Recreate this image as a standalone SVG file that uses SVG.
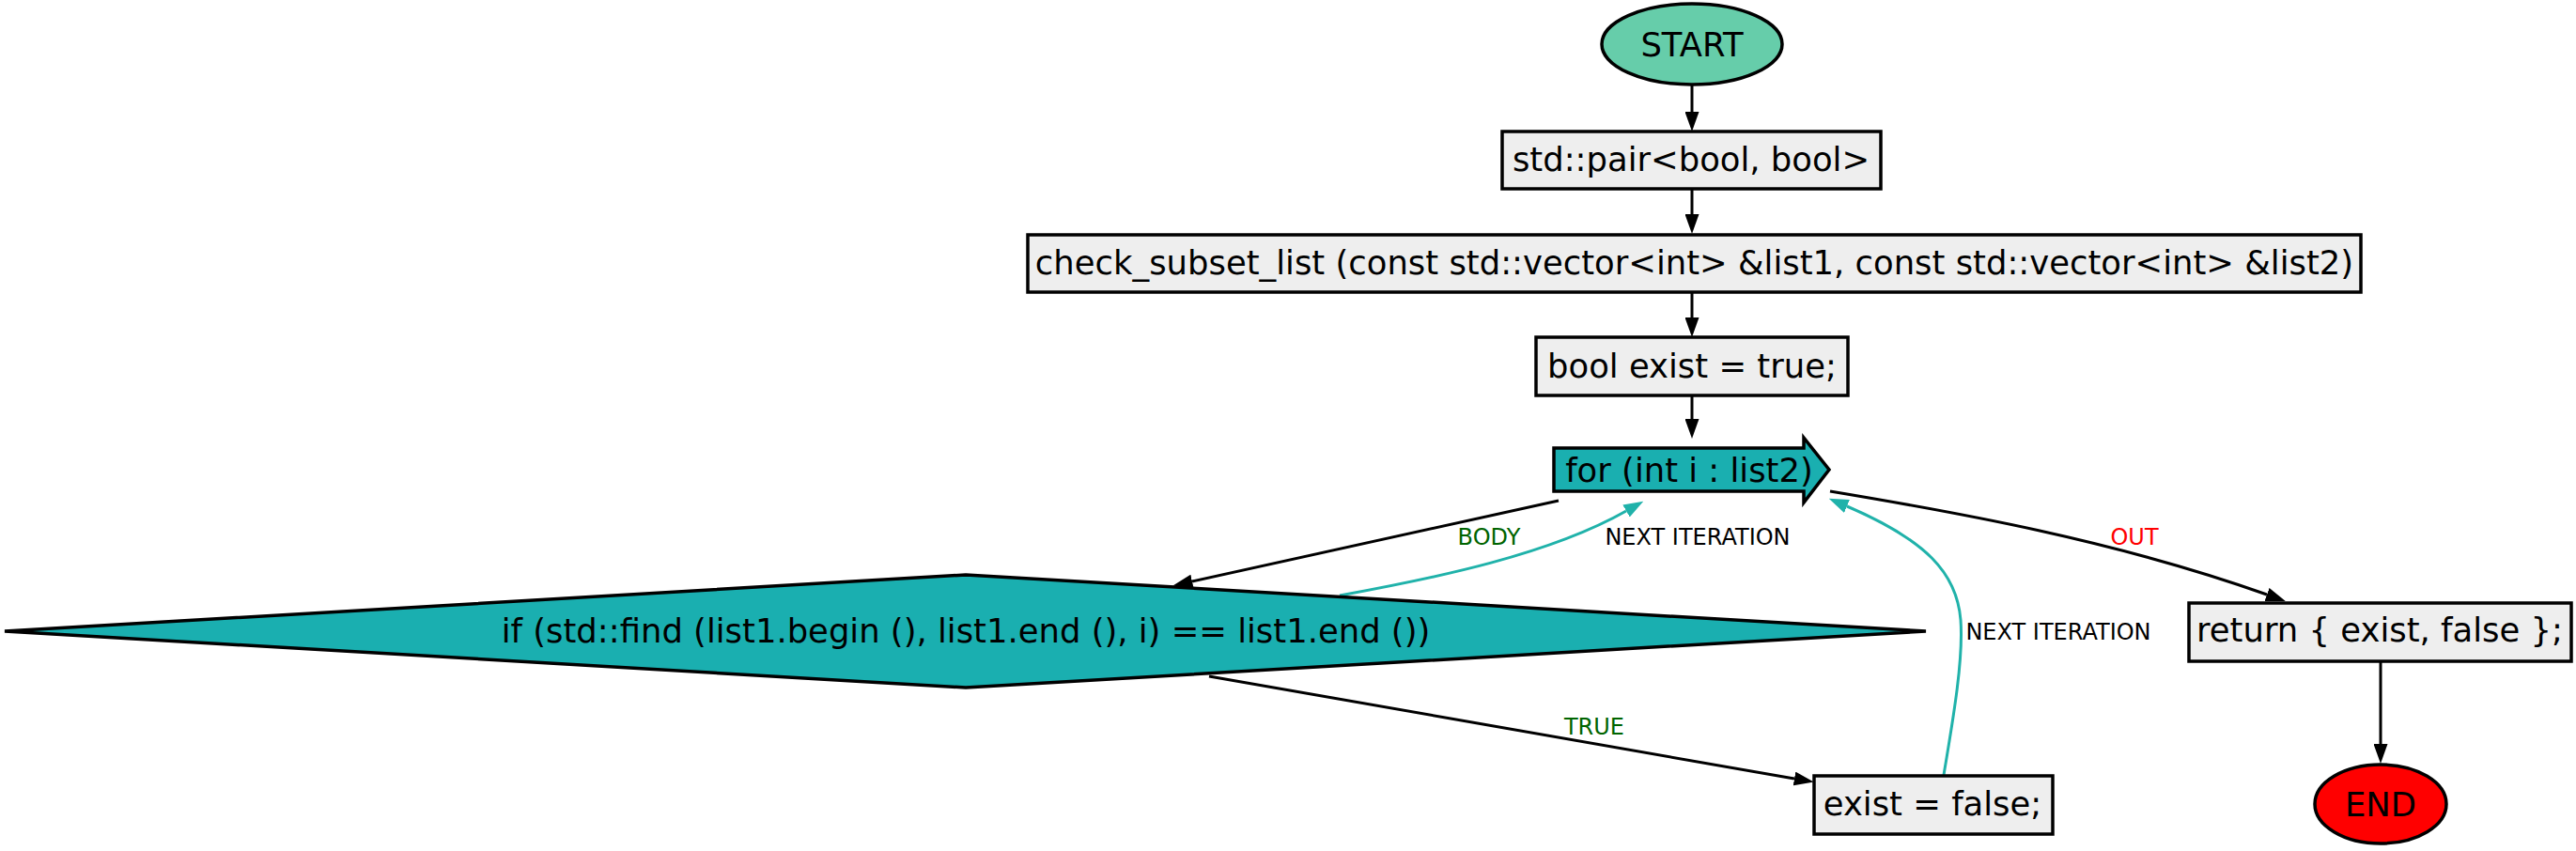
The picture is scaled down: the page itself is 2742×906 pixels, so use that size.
<svg xmlns="http://www.w3.org/2000/svg" width="2742" height="906" viewBox="0 0 2742 906">
<style>
.box{fill:#eeeeee;stroke:#000;stroke-width:3.5}
.loop{fill:#1aafb0;stroke:#000;stroke-width:3.5}
.t{font-family:"DejaVu Sans","Verdana",sans-serif;font-size:35.4px;fill:#000;text-anchor:middle}
.lb{font-family:"DejaVu Sans","Verdana",sans-serif;font-size:24px;text-anchor:middle}
.e{fill:none;stroke:#000;stroke-width:3}
.et{fill:none;stroke:#20b2aa;stroke-width:3}
</style>
<defs>
<marker id="ab" markerUnits="userSpaceOnUse" markerWidth="21" markerHeight="15" viewBox="0 0 21 15" refX="0" refY="7.5" orient="auto"><path d="M0,0 L21,7.5 L0,15 z" fill="#000"/></marker>
<marker id="at" markerUnits="userSpaceOnUse" markerWidth="21" markerHeight="15" viewBox="0 0 21 15" refX="0" refY="7.5" orient="auto"><path d="M0,0 L21,7.5 L0,15 z" fill="#20b2aa"/></marker>
</defs>
<rect width="2742" height="906" fill="#fff"/>
<g id="connectors">
<path class="e" d="M1801,90 L1801,119" marker-end="url(#ab)"/>
<path class="e" d="M1801,201 L1801,228" marker-end="url(#ab)"/>
<path class="e" d="M1801,311 L1801,338" marker-end="url(#ab)"/>
<path class="e" d="M1801,421 L1801,446" marker-end="url(#ab)"/>
<path class="e" d="M1659,533 L1269,619" marker-end="url(#ab)"/>
<path class="et" d="M1426,634 C1530,615 1650,590 1731,544" marker-end="url(#at)"/>
<path class="e" d="M1948,523 C2080,545 2250,575 2413,633" marker-end="url(#ab)"/>
<path class="e" d="M1287,720 L1910,829" marker-end="url(#ab)"/>
<path class="et" d="M2069,825 C2080,760 2090,700 2087,660 C2083,610 2050,575 1966,539" marker-end="url(#at)"/>
<path class="e" d="M2534,704 L2534,792" marker-end="url(#ab)"/>
<text class="lb" x="1585" y="580" fill="#006400">BODY</text>
<text class="lb" x="1807" y="580" fill="#000">NEXT ITERATION</text>
<text class="lb" x="2272" y="580" fill="#ff0000">OUT</text>
<text class="lb" x="1697" y="782" fill="#006400">TRUE</text>
<text class="lb" x="2191" y="681" fill="#000">NEXT ITERATION</text>
</g>
<g id="start">
<ellipse cx="1801" cy="47" rx="96" ry="43" fill="#66cdaa" stroke="#000" stroke-width="3.5"/>
<text class="t" x="1801" y="60">START</text>
</g>
<g id="pair">
<rect class="box" x="1599" y="140" width="403" height="61"/>
<text class="t" x="1800" y="182">std::pair&lt;bool, bool&gt;</text>
</g>
<g id="check">
<rect class="box" x="1094" y="250" width="1419" height="61"/>
<text class="t" x="1803.5" y="292">check_subset_list (const std::vector&lt;int&gt; &amp;list1, const std::vector&lt;int&gt; &amp;list2)</text>
</g>
<g id="bool">
<rect class="box" x="1635" y="359" width="332" height="62"/>
<text class="t" x="1801" y="402">bool exist = true;</text>
</g>
<g id="for">
<polygon class="loop" points="1654,477 1920,477 1920,466 1947,500 1920,535 1920,523 1654,523"/>
<text class="t" x="1798" y="513">for (int i : list2)</text>
</g>
<g id="if">
<polygon class="loop" points="5,672 1028,612 2050,672 1028,732"/>
<text class="t" x="1028" y="684">if (std::find (list1.begin (), list1.end (), i) == list1.end ())</text>
</g>
<g id="return">
<rect class="box" x="2330" y="642" width="407" height="62"/>
<text class="t" x="2533" y="683">return { exist, false };</text>
</g>
<g id="exist">
<rect class="box" x="1931" y="826" width="254" height="62"/>
<text class="t" x="2057" y="868">exist = false;</text>
</g>
<g id="end">
<ellipse cx="2534" cy="856" rx="70" ry="42" fill="#ff0000" stroke="#000" stroke-width="3.5"/>
<text class="t" x="2534" y="869">END</text>
</g>
</svg>
